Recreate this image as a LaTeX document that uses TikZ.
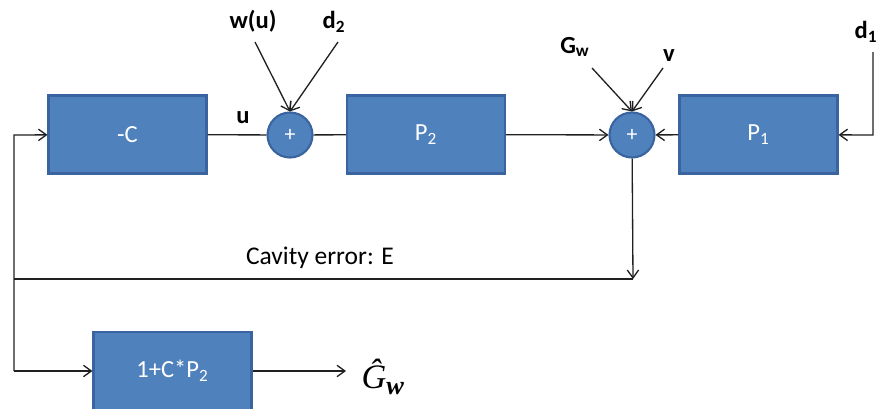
\documentclass[tikz,border=0pt]{standalone}
\usepackage{fontspec}
\setmainfont{Carlito}
\newfontfamily\timesfont{Liberation Serif}
\usetikzlibrary{arrows.meta,positioning,calc}
\definecolor{boxblue}{HTML}{4F81BD}
\definecolor{boxedge}{HTML}{3A64A0}
\definecolor{wire}{HTML}{202020}
\tikzset{every picture/.style={line width=0.75pt}}
\tikzset{
  blockbox/.style={draw=boxedge, line width=1.2pt, fill=boxblue, text=white,
    minimum width=3.16cm, minimum height=1.56cm, font=\fontsize{14}{17}\selectfont},
  sumnode/.style={draw=boxedge, line width=1.2pt, fill=boxblue, text=white, circle,
    minimum size=0.9cm, inner sep=0pt, font=\fontsize{12.5}{15}\selectfont},
  sig/.style={font=\fontsize{14}{17}\selectfont\bfseries},
  wire/.style={draw=wire, line width=0.75pt},
  arr/.style={wire, -{Straight Barb[length=4.5pt,width=6.5pt]}}
}

\begin{document}
\begin{tikzpicture}[x=0.02cm, y=-0.02cm]
    % Rahmen
    \useasboundingbox (0,0) rectangle (879,409);

    % Bloecke
    \node[blockbox] (mC) at (127.5,134.5) {-C};
    \node[blockbox] (P2) at (426,134.5) {P\textsubscript{2}};
    \node[blockbox] (P1) at (758.5,134.5) {P\textsubscript{1}};
    \node[blockbox] (corr) at (172.5,371) {1+C*P\textsubscript{2}};

    % Summierer
    \node[sumnode] (s1) at (290,135) {+};
    \node[sumnode] (s2) at (632,135) {+};

    % Signale
    \node[sig] (wu) at (253,21) {w(u)};
    \node[sig] (d2) at (334,22) {d\textsubscript{2}};
    \node[sig] (Gw) at (575,47) {G\textsubscript{w}};
    \node[sig] (vv) at (669,56) {v};
    \node[sig] (d1) at (866,32) {d\textsubscript{1}};
    \node[sig] (uu) at (243,118) {u};
    \node[font=\fontsize{14.5}{17}\selectfont] (cav) at (320,258) {Cavity error: E};
    \node[anchor=west, inner xsep=8.5pt, inner ysep=1pt,
      font=\fontsize{19.5}{22}\selectfont\timesfont\itshape] (Ghat) at (346,377)
      {\^{G}\raisebox{-0.4ex}{\fontsize{15}{15}\selectfont\bfseries w}};

    % Hilfspunkte
    \coordinate (wuT) at (255,42);
    \coordinate (d2T) at (338,42);
    \coordinate (GwT) at (592,68);
    \coordinate (vT) at (663,68);
    \coordinate (d1T) at (873,52);
    \coordinate (d1C) at (873,135);
    \coordinate (eR) at (633,279);
    \coordinate (eL) at (14,279);
    \coordinate (fbT) at (14,135);
    \coordinate (fbB) at (14,371);

    % Vorwaertszweig
    \draw[wire] (mC) -- (s1);
    \draw[wire] (s1) -- (P2);
    \draw[arr] (P2) -- (s2);
    \draw[arr] (P1) -- (s2);
    \draw[arr] (wuT) -- (s1.north);
    \draw[arr] (d2T) -- (s1.north);
    \draw[arr] (GwT) -- (s2.north);
    \draw[arr] (vT) -- (s2.north);
    \draw[arr] (d1T) -- (d1C) -- (P1);

    % Rueckfuehrung
    \draw[arr] (s2) -- (eR);
    \draw[wire] (eR) -- (eL);
    \draw[arr] (fbB) -- (fbT) -- (mC);
    \draw[arr] (fbB) -- (corr);
    \draw[arr] (corr) -- (Ghat.west |- corr);
\end{tikzpicture}
\end{document}
